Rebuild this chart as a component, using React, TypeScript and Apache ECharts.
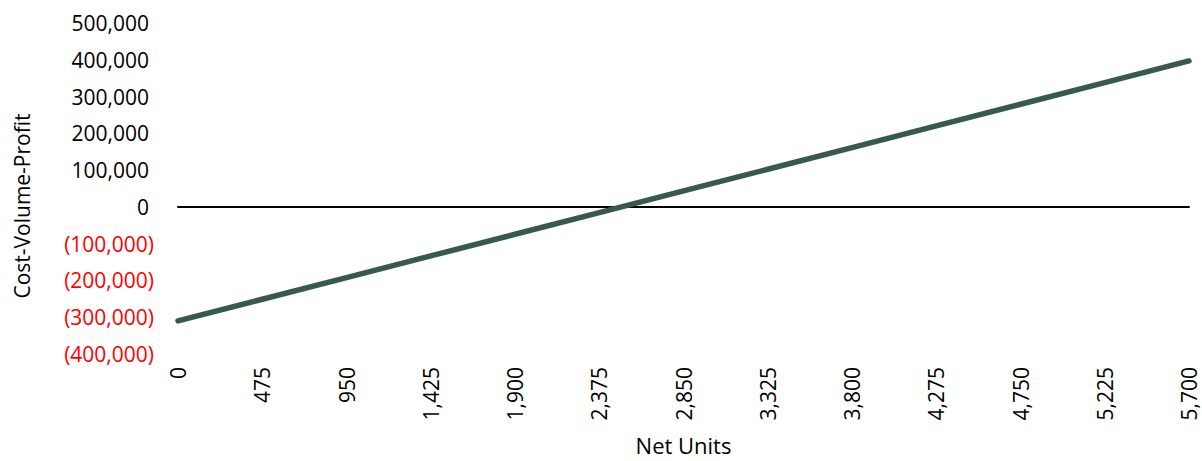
import React, { useEffect, useRef } from "react";
import * as echarts from "echarts";

// Units sold (x axis categories)
const netUnits: number[] = [0, 475, 950, 1425, 1900, 2375, 2850, 3325, 3800, 4275, 4750, 5225, 5700];
// Profit / loss at each volume
const profit: number[] = [
  -310000, -251100, -192200, -133300, -74400, -15500, 43400,
  102300, 161200, 220100, 279000, 337900, 396800,
];
// Value axis range
const yMin = -400000;
const yMax = 500000;
const yStep = 100000;

const FONT = "'Open Sans', sans-serif";
const fmt = (v: number) => Math.abs(v).toLocaleString("en-US");

export default function App() {
  const ref = useRef<HTMLDivElement>(null);

  useEffect(() => {
    if (!ref.current) return;
    document.body.style.margin = "0";
    const chart = echarts.init(ref.current, undefined, { renderer: "svg" });
    const cats = netUnits.map((u) => fmt(u));
    chart.setOption({
      animation: false,
      grid: { left: 178, right: 13, top: 23, bottom: 106, containLabel: false },
      xAxis: [
        {
          // axis line drawn through zero
          type: "category",
          data: cats,
          boundaryGap: false,
          axisLine: { show: true, onZero: true, lineStyle: { color: "#000", width: 2 } },
          axisTick: { show: false },
          axisLabel: { show: false },
          splitLine: { show: false },
        },
        {
          // unit labels along the bottom
          type: "category",
          data: cats,
          boundaryGap: false,
          position: "bottom",
          axisLine: { show: false, onZero: false },
          axisTick: { show: false },
          splitLine: { show: false },
          axisLabel: {
            rotate: 90,
            margin: 13,
            interval: 0,
            color: "#000",
            fontFamily: FONT,
            fontSize: 21,
            lineHeight: 18,
          },
          name: "Net Units",
          nameLocation: "middle",
          nameGap: 80,
          nameTextStyle: { color: "#000", fontFamily: FONT, fontSize: 22 },
        },
      ],
      yAxis: {
        type: "value",
        min: yMin,
        max: yMax,
        interval: yStep,
        axisLine: { show: false },
        axisTick: { show: false },
        splitLine: { show: false },
        axisLabel: {
          margin: 24,
          fontFamily: FONT,
          fontSize: 21,
          formatter: (v: number) => (v < 0 ? `{n|(${fmt(v)})}` : `{p|${fmt(v)}}`),
          rich: {
            p: { color: "#000", fontFamily: FONT, fontSize: 21, padding: [0, 5, 0, 0] },
            n: { color: "#ff0000", fontFamily: FONT, fontSize: 21 },
          },
        },
      },
      graphic: [
        {
          type: "text",
          x: 22,
          y: 206,
          rotation: Math.PI / 2,
          style: {
            text: "Cost-Volume-Profit",
            fill: "#000",
            font: `21px ${FONT}`,
            align: "center",
            verticalAlign: "middle",
          },
        },
      ],
      series: [
        {
          type: "line",
          xAxisIndex: 0,
          data: profit,
          symbol: "none",
          lineStyle: { color: "#375a4a", width: 5.5, cap: "round" },
          z: 3,
        },
      ],
    });
    return () => chart.dispose();
  }, []);

  return <div ref={ref} style={{ width: 1202, height: 461 }} />;
}
